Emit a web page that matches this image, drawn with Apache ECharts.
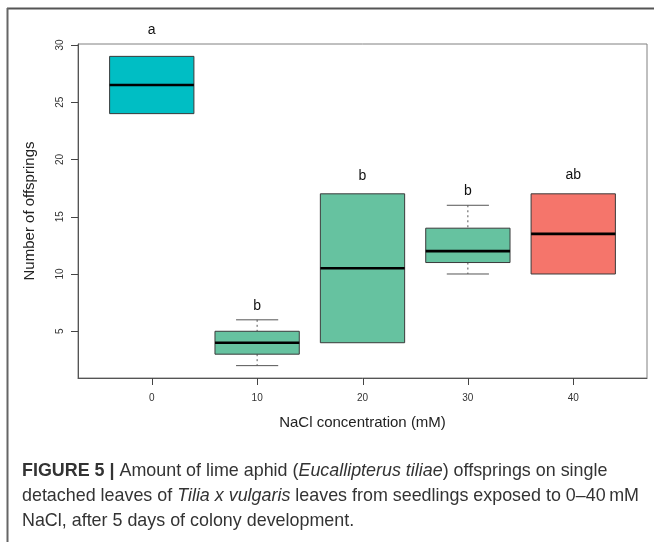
<!DOCTYPE html>
<html>
<head>
<meta charset="utf-8">
<script src="https://cdn.jsdelivr.net/npm/echarts@6/dist/echarts.min.js"></script>
<style>
html,body{margin:0;padding:0;background:#fff;}
#chart{width:654px;height:542px;}
</style>
</head>
<body>
<div id="chart"></div>
<script>
// ---- data ----
const concentrations = [0, 10, 20, 30, 40];          // NaCl (mM)
const whiskerLow  = [24, 2, 4, 10, 10];
const q1Values    = [24, 3, 4, 11, 10];
const medians     = [26.5, 4, 10.5, 12, 13.5];
const q3Values    = [29, 5, 17, 14, 17];
const whiskerHigh = [29, 6, 17, 16, 17];
const letters     = ['a', 'b', 'b', 'b', 'ab'];
const letterY     = [31.3, 7.2, 18.5, 17.2, 18.6];
const boxColors   = ['#00BEC4', '#66C2A0', '#66C2A0', '#66C2A0', '#F5756B'];
const yTicks = [5, 10, 15, 20, 25, 30];
const xTicks = [0, 10, 20, 30, 40];

const X_MIN = -7, X_MAX = 47, Y_MIN = 0.92, Y_MAX = 30.08;

const boxData = concentrations.map((c, i) =>
  [c, whiskerLow[i], q1Values[i], medians[i], q3Values[i], whiskerHigh[i], i]);
const letterData = concentrations.map((c, i) => [c, letterY[i], letters[i]]);

const chart = echarts.init(document.getElementById('chart'), null, {renderer: 'canvas'});

const HALF_BOX = 4;   // mM
const HALF_CAP = 2;   // mM

function renderBox(params, api) {
  const x = api.value(0);
  const lo = api.value(1), q1 = api.value(2), med = api.value(3), q3 = api.value(4), hi = api.value(5);
  const idx = api.value(6);
  const pL = api.coord([x - HALF_BOX, q3]);
  const pR = api.coord([x + HALF_BOX, q1]);
  const pC = api.coord([x, med]);
  const cL = api.coord([x - HALF_CAP, hi]);
  const cR = api.coord([x + HALF_CAP, lo]);
  const pHi = api.coord([x, hi]);
  const pLo = api.coord([x, lo]);
  const children = [];
  const wStyle = {stroke: '#555', lineWidth: 1, lineDash: [2, 3]};
  const capStyle = {stroke: '#555', lineWidth: 1};
  if (hi > q3) {
    children.push({type: 'line', shape: {x1: pC[0], y1: pHi[1], x2: pC[0], y2: pL[1]}, style: wStyle});
    children.push({type: 'line', shape: {x1: cL[0], y1: pHi[1], x2: cR[0], y2: pHi[1]}, style: capStyle});
  }
  if (lo < q1) {
    children.push({type: 'line', shape: {x1: pC[0], y1: pR[1], x2: pC[0], y2: pLo[1]}, style: wStyle});
    children.push({type: 'line', shape: {x1: cL[0], y1: pLo[1], x2: cR[0], y2: pLo[1]}, style: capStyle});
  }
  children.push({type: 'rect',
    shape: {x: pL[0], y: pL[1], width: pR[0] - pL[0], height: pR[1] - pL[1]},
    style: {fill: boxColors[idx], stroke: '#3a3a3a', lineWidth: 1}});
  children.push({type: 'line', shape: {x1: pL[0], y1: pC[1], x2: pR[0], y2: pC[1]},
    style: {stroke: '#000', lineWidth: 2.6}});
  return {type: 'group', children: children};
}

function renderLetter(params, api) {
  const p = api.coord([api.value(0), api.value(1)]);
  return {type: 'text', x: p[0], y: p[1],
    style: {text: letters[params.dataIndex], fill: '#111', font: '14px "Liberation Sans", Arial, sans-serif',
      align: 'center', verticalAlign: 'middle'}};
}

const option = {
  backgroundColor: '#fff',
  animation: false,
  grid: {left: 78, right: 7, top: 44, bottom: 164, show: true, borderColor: '#808080', borderWidth: 1},
  xAxis: {
    type: 'value', min: X_MIN, max: X_MAX,
    splitLine: {show: false},
    axisLine: {show: true, onZero: false, lineStyle: {color: '#555'}},
    axisTick: {show: false},
    axisLabel: {color: '#333', fontSize: 10, margin: 15, fontFamily: 'Liberation Sans', customValues: xTicks},
    name: 'NaCl concentration (mM)', nameLocation: 'middle', nameGap: 37,
    nameTextStyle: {fontSize: 15, color: '#222', fontFamily: 'Liberation Sans'}
  },
  yAxis: {
    type: 'value', min: Y_MIN, max: Y_MAX,
    splitLine: {show: false},
    axisLine: {show: true, onZero: false, lineStyle: {color: '#555'}},
    axisTick: {show: false},
    axisLabel: {color: '#333', fontSize: 10, margin: 13, rotate: 90, fontFamily: 'Liberation Sans', customValues: yTicks},
    name: 'Number of offsprings', nameLocation: 'middle', nameGap: 41,
    nameTextStyle: {fontSize: 15, color: '#222', fontFamily: 'Liberation Sans'}
  },
  series: [
    {type: 'custom', renderItem: renderBox, data: boxData, clip: false, encode: {x: 0, y: [1, 5]}},
    {type: 'custom', renderItem: renderLetter, data: letterData, clip: false, encode: {x: 0, y: 1}}
  ],
  graphic: [
    {type: 'line', shape: {x1: 7, y1: 8.5, x2: 654, y2: 8.5}, style: {stroke: '#555', lineWidth: 2}},
    {type: 'line', shape: {x1: 7.5, y1: 8, x2: 7.5, y2: 542}, style: {stroke: '#666', lineWidth: 2}},
    {type: 'text', left: 22, top: 458.5,
      style: {
        text: '{b|FIGURE 5 |} Amount of lime aphid ({i|Eucallipterus tiliae}) offsprings on single\n' +
              'detached leaves of {i|Tilia x vulgaris} leaves from seedlings exposed to 0\u201340\u2009mM\n' +
              'NaCl, after 5 days of colony development.',
        font: '17.9px "Liberation Sans", Arial, sans-serif',
        fill: '#333', lineHeight: 25,
        rich: {
          b: {fontWeight: 'bold', fontSize: 17.9, fontFamily: 'Liberation Sans', fill: '#333', lineHeight: 25},
          i: {fontStyle: 'italic', fontSize: 17.9, fontFamily: 'Liberation Sans', fill: '#333', lineHeight: 25}
        }
      }}
  ]
};
chart.setOption(option);

// axis tick marks, placed through the chart's own scales
const tickEls = [];
yTicks.forEach(v => {
  const p = chart.convertToPixel({gridIndex: 0}, [X_MIN, v]);
  const y = Math.round(p[1]) + 0.5;
  tickEls.push({type: 'line', silent: true, z: 10,
    shape: {x1: p[0] - 7, y1: y, x2: p[0], y2: y}, style: {stroke: '#444', lineWidth: 1}});
});
xTicks.forEach(v => {
  const p = chart.convertToPixel({gridIndex: 0}, [v, Y_MIN]);
  const x = Math.round(p[0]) + 0.5;
  tickEls.push({type: 'line', silent: true, z: 10,
    shape: {x1: x, y1: p[1], x2: x, y2: p[1] + 7}, style: {stroke: '#444', lineWidth: 1}});
});
chart.setOption({graphic: option.graphic.concat(tickEls)});
</script>
</body>
</html>
